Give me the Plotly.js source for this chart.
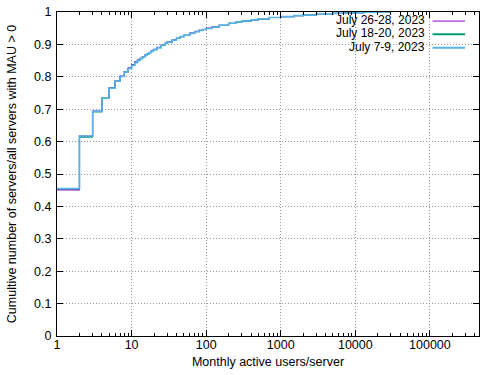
<!DOCTYPE html>
<html>
<head>
<meta charset="utf-8">
<script src="https://cdn.plot.ly/plotly-3.0.1.min.js"></script>
<style>html,body{margin:0;padding:0;background:#fff;}#chart{width:500px;height:375px;}</style>
</head>
<body>
<div id="chart"></div>
<script>
// Monthly active users per server (x) and cumulative fraction of servers (y)
const mau = [1,2,3,4,5,6,7,8,9,10,11,12,13,14,15,16,17,18,19,20,22,25,28,30,35,40,45,50,60,70,80,90,100,120,150,200,250,300,400,500,700,1000,1500,2000,3000,5000,7000,10000,13000,20000,30000];

const seriesNames = ["July 26-28, 2023", "July 18-20, 2023", "July 7-9, 2023"];

const cdfJul26 = [0.451,0.617,0.694,0.736,0.766,0.787,0.802,0.816,0.828,0.838,0.846,0.852,0.857,0.862,0.867,0.871,0.875,0.879,0.882,0.885,0.891,0.898,0.903,0.907,0.913,0.919,0.924,0.928,0.935,0.940,0.943,0.946,0.950,0.954,0.959,0.965,0.969,0.972,0.976,0.979,0.983,0.986,0.989,0.991,0.993,0.996,0.997,0.998,0.999,1.000,1.000];
const cdfJul18 = [0.454,0.614,0.692,0.735,0.765,0.786,0.801,0.815,0.826,0.836,0.845,0.851,0.857,0.862,0.866,0.870,0.874,0.878,0.881,0.884,0.890,0.897,0.903,0.906,0.913,0.919,0.924,0.928,0.934,0.939,0.943,0.946,0.949,0.953,0.959,0.965,0.969,0.972,0.976,0.979,0.983,0.986,0.989,0.991,0.993,0.996,0.997,0.998,0.999,1.000,1.000];
const cdfJul7  = [0.455,0.617,0.694,0.735,0.765,0.786,0.801,0.815,0.826,0.835,0.843,0.850,0.856,0.861,0.866,0.870,0.874,0.878,0.881,0.884,0.890,0.897,0.903,0.906,0.913,0.919,0.924,0.928,0.934,0.939,0.943,0.946,0.949,0.953,0.959,0.965,0.969,0.972,0.976,0.979,0.983,0.986,0.989,0.991,0.993,0.996,0.997,0.998,0.999,1.000,1.000];

const xTickVals = [1,10,100,1000,10000,100000];
const xTickText = ["1","10","100","1000","10000","100000"];
const yTickVals = [0,0.1,0.2,0.3,0.4,0.5,0.6,0.7,0.8,0.9,1];
const yTickText = ["0","0.1","0.2","0.3","0.4","0.5","0.6","0.7","0.8","0.9","1"];

const colors = ["#9400d3", "#009e73", "#56b4e9"];
const widths = [1.2, 1.2, 1.5];
const legendWidths = [1, 2, 2];
const allY = [cdfJul26, cdfJul18, cdfJul7];

const minorVals = [];
for (let d = 1; d <= 100000; d *= 10) {
  for (let k = 2; k <= 9; k++) minorVals.push(k * d);
}

const traces = allY.map((ys, i) => ({
  x: mau, y: ys, type: "scatter", mode: "lines", name: seriesNames[i],
  line: {shape: "hv", color: colors[i], width: widths[i]},
  showlegend: false, hoverinfo: "skip"
}));

const font = {family: "Liberation Sans, Arial, sans-serif", size: 12.5, color: "#000"};
const legFont = {family: "Liberation Sans, Arial, sans-serif", size: 12, color: "#000"};

const legTextY = [0.975, 0.934, 0.893];
const legLineY = [0.972, 0.931, 0.890];
const annotations = seriesNames.map((n, i) => ({
  text: n, xref: "paper", yref: "paper", x: 0.874, y: legTextY[i],
  xanchor: "right", yanchor: "middle", showarrow: false, borderpad: 0,
  font: legFont
}));
const shapes = seriesNames.map((n, i) => ({
  type: "line", xref: "paper", yref: "paper", x0: 0.89, x1: 0.967, y0: legLineY[i], y1: legLineY[i],
  line: {color: colors[i], width: legendWidths[i]}
}));

const layout = {
  width: 500, height: 375,
  margin: {l: 57, r: 21, t: 12, b: 39, pad: 0},
  paper_bgcolor: "#fff", plot_bgcolor: "#fff",
  font: font,
  showlegend: false,
  xaxis: {
    type: "log", range: [0, 5.658], autorange: false,
    tickmode: "array", tickvals: xTickVals, ticktext: xTickText,
    ticks: "inside", ticklen: 6, tickcolor: "#000", tickwidth: 1,
    ticklabelstandoff: -3,
    showline: true, linecolor: "#000", linewidth: 1, mirror: "allticks",
    showgrid: true, gridcolor: "#9a9a9a", griddash: "1px,2px", gridwidth: 1,
    zeroline: false,
    minor: {tickmode: "array", tickvals: minorVals, ticks: "inside", ticklen: 3, tickcolor: "#000", showgrid: false},
    tickfont: font,
    title: {text: "Monthly active users/server", font: font, standoff: 6},
    automargin: false
  },
  yaxis: {
    range: [0, 1], autorange: false,
    tickmode: "array", tickvals: yTickVals, ticktext: yTickText,
    ticks: "inside", ticklen: 6, tickcolor: "#000", tickwidth: 1,
    ticklabelstandoff: 2,
    showline: true, linecolor: "#000", linewidth: 1, mirror: "allticks",
    showgrid: true, gridcolor: "#9a9a9a", griddash: "1px,2px", gridwidth: 1,
    zeroline: false,
    tickfont: font,
    title: {text: "Cumultive number of servers/all servers with MAU > 0", font: font, standoff: 14},
    automargin: false
  },
  annotations: annotations,
  shapes: shapes
};

Plotly.newPlot("chart", traces, layout, {displayModeBar: false, staticPlot: true});
</script>
</body>
</html>
